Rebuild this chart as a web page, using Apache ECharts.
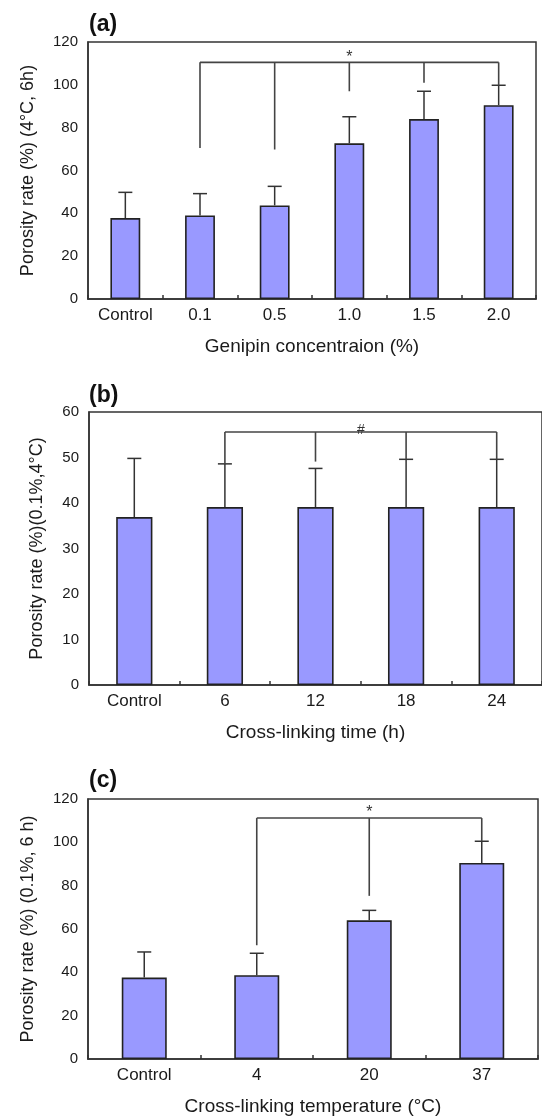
<!DOCTYPE html>
<html>
<head>
<meta charset="utf-8">
<script src="https://cdn.jsdelivr.net/npm/echarts@6/dist/echarts.min.js"></script>
<style>
  html, body { margin: 0; background: #fff; }
  #chart { width: 542px; height: 1119px; }
</style>
</head>
<body>
<div id="chart"></div>
<script>
// (a) genipin concentration, 4°C 6h
const catsA = ["Control", "0.1", "0.5", "1.0", "1.5", "2.0"];
const meanA = [37.8, 39.0, 43.7, 72.7, 84.0, 90.5];
const errA = [49.8, 49.2, 52.6, 85.1, 97.0, 99.8];
const sigCatsA = ["0.1", "0.5", "1.0", "1.5", "2.0"];
const sigEndsA = [70.5, 69.8, 97.0, 101.0, 99.8];
const sigLevelA = 110.5;
const yRangeA = [0, 120, 20];

// (b) cross-linking time, 0.1% 4°C
const catsB = ["Control", "6", "12", "18", "24"];
const meanB = [36.9, 39.1, 39.1, 39.1, 39.1];
const errB = [49.8, 48.6, 47.6, 49.6, 49.6];
const sigCatsB = ["6", "12", "18", "24"];
const sigEndsB = [48.6, 49.1, 49.6, 49.6];
const sigLevelB = 55.6;
const yRangeB = [0, 60, 10];

// (c) cross-linking temperature, 0.1% 6h
const catsC = ["Control", "4", "20", "37"];
const meanC = [37.6, 38.7, 64.0, 90.5];
const errC = [49.4, 48.8, 68.6, 100.5];
const sigCatsC = ["4", "20", "37"];
const sigEndsC = [52.5, 75.3, 100.5];
const sigLevelC = 111.2;
const yRangeC = [0, 120, 20];

const INK = "#333";
const TXT = "#1a1a1a";
const FONT = "'Liberation Sans', Arial, sans-serif";

const chartDom = document.getElementById("chart");
const myChart = echarts.init(chartDom, null, { renderer: "canvas" });

// upper error bar with a short cap
function errSeries(idx, cats, mean, err) {
  return {
    type: "custom",
    xAxisIndex: idx,
    yAxisIndex: idx,
    z: 5,
    silent: true,
    data: cats.map((c, i) => [i, mean[i], err[i]]),
    renderItem: (params, api) => {
      const x = api.value(0);
      const base = api.coord([x, api.value(1)]);
      const top = api.coord([x, api.value(2)]);
      const half = 7;
      const st = { stroke: INK, lineWidth: 1.5 };
      return {
        type: "group",
        children: [
          { type: "line", shape: { x1: base[0], y1: base[1], x2: top[0], y2: top[1] }, style: st },
          { type: "line", shape: { x1: top[0] - half, y1: top[1], x2: top[0] + half, y2: top[1] }, style: st },
        ],
      };
    },
  };
}

// significance bracket: drops per category + one bar across + mark
function sigSeries(idx, cats, sigCats, ends, level, mark, markOffset, markSize) {
  const first = cats.indexOf(sigCats[0]);
  const last = cats.indexOf(sigCats[sigCats.length - 1]);
  return {
    type: "custom",
    xAxisIndex: idx,
    yAxisIndex: idx,
    z: 6,
    silent: true,
    data: sigCats.map((c, i) => [cats.indexOf(c), ends[i]]),
    renderItem: (params, api) => {
      const st = { stroke: "#444", lineWidth: 1.6 };
      const p0 = api.coord([api.value(0), level]);
      const p1 = api.coord([api.value(0), api.value(1)]);
      const children = [
        { type: "line", shape: { x1: p0[0], y1: p0[1], x2: p1[0], y2: p1[1] }, style: st },
      ];
      if (params.dataIndex === 0) {
        const a = api.coord([first, level]);
        const b = api.coord([last, level]);
        children.push({ type: "line", shape: { x1: a[0], y1: a[1], x2: b[0], y2: b[1] }, style: st });
        children.push({
          type: "text",
          style: {
            text: mark,
            x: (a[0] + b[0]) / 2,
            y: a[1] + markOffset,
            align: "center",
            verticalAlign: "middle",
            font: markSize + "px " + FONT,
            fill: "#333",
          },
        });
      }
      return { type: "group", children: children };
    },
  };
}

function barSeries(idx, mean) {
  return {
    type: "bar",
    xAxisIndex: idx,
    yAxisIndex: idx,
    data: mean,
    barWidth: "40%",
    silent: true,
    itemStyle: { color: "#9999FF", borderColor: "#222", borderWidth: 1.6 },
  };
}

function xAxis(idx, cats, name) {
  return {
    type: "category",
    gridIndex: idx,
    data: cats,
    axisLine: { lineStyle: { color: INK, width: 1.5 } },
    axisTick: { show: true, inside: true, length: 4, lineStyle: { color: INK, width: 1.5 } },
    axisLabel: { fontSize: 17, color: TXT, margin: 8, fontFamily: FONT },
    name: name,
    nameLocation: "middle",
    nameGap: 38,
    nameTextStyle: { fontSize: 19, color: TXT, fontFamily: FONT },
  };
}

function yAxis(idx, range, name, gap) {
  return {
    type: "value",
    gridIndex: idx,
    min: range[0],
    max: range[1],
    interval: range[2],
    axisLine: { show: true, lineStyle: { color: INK, width: 1.5 } },
    axisTick: { show: false },
    splitLine: { show: false },
    axisLabel: { fontSize: 15, color: TXT, margin: 10, fontFamily: FONT },
    name: name,
    nameLocation: "middle",
    nameGap: gap,
    nameTextStyle: { fontSize: 18, color: TXT, fontFamily: FONT },
  };
}

const gridStyle = { show: true, borderColor: INK, borderWidth: 1.5, backgroundColor: "transparent" };

const option = {
  animation: false,
  textStyle: { fontFamily: FONT },
  title: [
    { text: "(a)", left: 84, top: 8, textStyle: { fontSize: 23, fontWeight: "bold", color: "#111" } },
    { text: "(b)", left: 84, top: 379, textStyle: { fontSize: 23, fontWeight: "bold", color: "#111" } },
    { text: "(c)", left: 84, top: 764, textStyle: { fontSize: 23, fontWeight: "bold", color: "#111" } },
  ],
  grid: [
    Object.assign({ left: 88, top: 42, width: 448, height: 257 }, gridStyle),
    Object.assign({ left: 89, top: 412, width: 459, height: 273 }, gridStyle),
    Object.assign({ left: 88, top: 799, width: 450, height: 260 }, gridStyle),
  ],
  xAxis: [
    xAxis(0, catsA, "Genipin concentraion (%)"),
    xAxis(1, catsB, "Cross-linking time (h)"),
    xAxis(2, catsC, "Cross-linking temperature (°C)"),
  ],
  yAxis: [
    yAxis(0, yRangeA, "Porosity rate (%) (4°C, 6h)", 51),
    yAxis(1, yRangeB, "Porosity rate (%)(0.1%,4°C)", 43),
    yAxis(2, yRangeC, "Porosity rate (%) (0.1%, 6 h)", 51),
  ],
  series: [
    barSeries(0, meanA),
    errSeries(0, catsA, meanA, errA),
    sigSeries(0, catsA, sigCatsA, sigEndsA, sigLevelA, "*", -5, 16),
    barSeries(1, meanB),
    errSeries(1, catsB, meanB, errB),
    sigSeries(1, catsB, sigCatsB, sigEndsB, sigLevelB, "#", -2, 14),
    barSeries(2, meanC),
    errSeries(2, catsC, meanC, errC),
    sigSeries(2, catsC, sigCatsC, sigEndsC, sigLevelC, "*", -5, 16),
  ],
};

myChart.setOption(option);
</script>
</body>
</html>
